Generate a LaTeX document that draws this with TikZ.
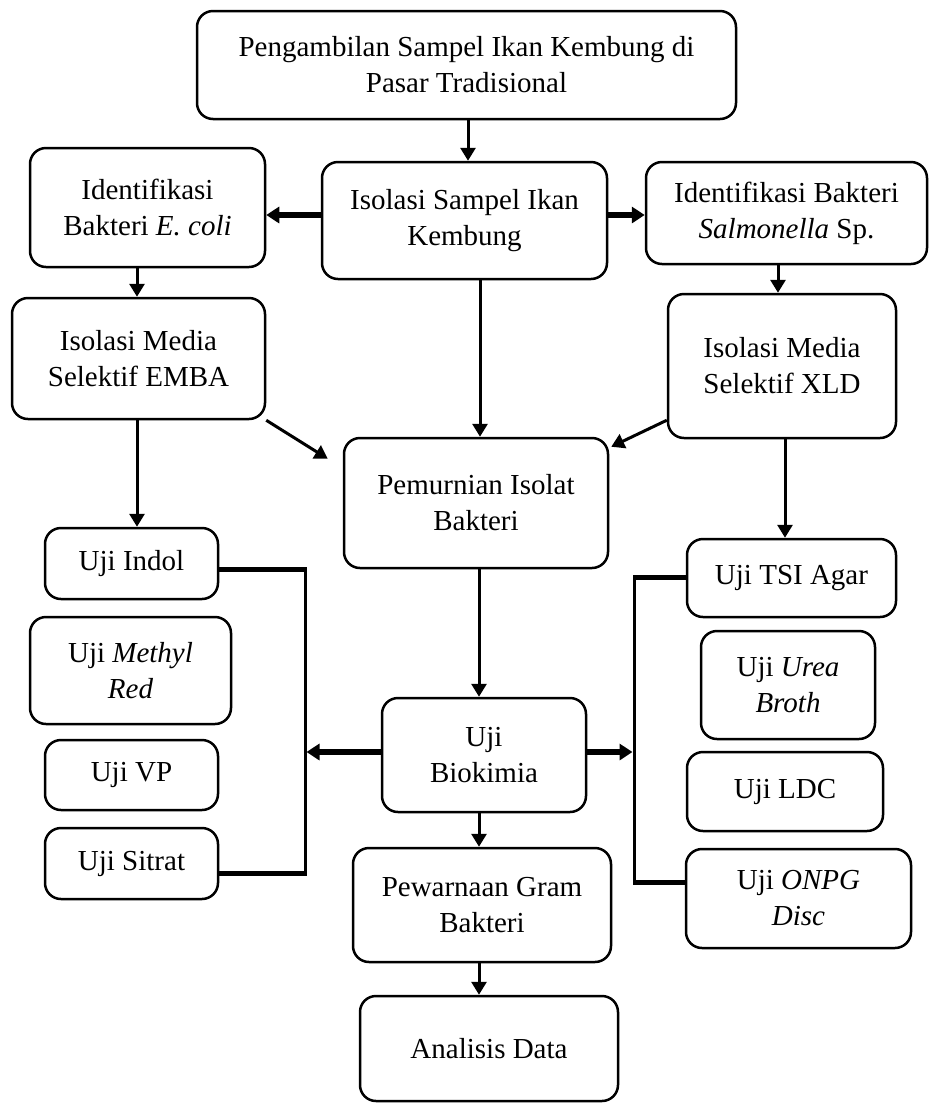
\documentclass[tikz,border=0pt]{standalone}
\usepackage{fontspec}
\setmainfont{Liberation Serif}
\usetikzlibrary{arrows.meta,calc}
\begin{document}
\begin{tikzpicture}[x=1pt,y=1pt,
  box/.style={draw, line width=2.5pt, rounded corners=16pt, align=center, inner sep=0pt,
    font=\fontsize{29}{36}\selectfont},
  arr/.style={line width=3pt, -{Triangle[length=13pt,width=15pt]}},
  tarr/.style={line width=5.5pt, -{Triangle[length=13pt,width=16pt]}},
  tline/.style={line width=5pt},
  conn/.style={line width=3pt}]
\useasboundingbox (0,0) rectangle (929,-1104);

% boxes
\node[box, minimum width=539pt, minimum height=108pt] (top) at (466.5,-65) {Pengambilan Sampel Ikan Kembung di\\Pasar Tradisional};
\node[box, minimum width=235pt, minimum height=119pt] (ecoliID) at (147.5,-207.5) {Identifikasi\\Bakteri \textit{E. coli}};
\node[box, minimum width=285pt, minimum height=117pt] (isolasi) at (464.5,-220.5) {Isolasi Sampel Ikan\\Kembung};
\node[box, minimum width=281pt, minimum height=102pt] (salmID) at (786.5,-213) {Identifikasi Bakteri\\\textit{Salmonella} Sp.};
\node[box, minimum width=253pt, minimum height=121pt] (emba) at (138.5,-358.5) {Isolasi Media\\Selektif EMBA};
\node[box, minimum width=228pt, minimum height=144pt] (xld) at (782,-366) {Isolasi Media\\Selektif XLD};
\node[box, minimum width=264pt, minimum height=130pt] (pem) at (476,-503) {Pemurnian Isolat\\Bakteri};
\node[box, minimum width=173pt, minimum height=71pt] (indol) at (131.5,-563.5) {Uji Indol};
\node[box, minimum width=201pt, minimum height=107pt] (mr) at (130.5,-670.5) {Uji \textit{Methyl}\\\textit{Red}};
\node[box, minimum width=173pt, minimum height=70pt] (vp) at (131.5,-775) {Uji VP};
\node[box, minimum width=173pt, minimum height=71pt] (sitrat) at (131.5,-863.5) {Uji Sitrat};
\node[box, minimum width=209pt, minimum height=78pt] (tsi) at (791.5,-578) {Uji TSI Agar};
\node[box, minimum width=174pt, minimum height=108pt] (urea) at (788,-685) {Uji \textit{Urea}\\\textit{Broth}};
\node[box, minimum width=196pt, minimum height=79pt] (ldc) at (785,-791.5) {Uji LDC};
\node[box, minimum width=225pt, minimum height=99pt] (onpg) at (798.5,-898.5) {Uji \textit{ONPG}\\\textit{Disc}};
\node[box, minimum width=204pt, minimum height=114pt] (bio) at (484,-755) {Uji\\Biokimia};
\node[box, minimum width=258pt, minimum height=114pt] (pew) at (482,-905) {Pewarnaan Gram\\Bakteri};
\node[box, minimum width=258pt, minimum height=105pt] (ana) at (489,-1048.5) {Analisis Data};

% connectors
\draw[arr] (top.south -| 468,0) -- (isolasi.north -| 468,0);
\draw[tarr] (isolasi.west |- 0,-215) -- (ecoliID.east |- 0,-215);
\draw[tarr] (isolasi.east |- 0,-215) -- (salmID.west |- 0,-215);
\draw[arr] (ecoliID.south -| 137,0) -- (emba.north -| 137,0);
\draw[arr] (salmID.south -| 778,0) -- (xld.north -| 778,0);
\draw[arr] (isolasi.south -| 480,0) -- (pem.north -| 480,0);
\draw[arr] (emba.south east) -- ($(pem.north west)+(-15,-22)$);
\draw[arr] ($(xld.south west)+(0,19)$) -- ($(pem.north east)+(2,-10)$);
\draw[arr] (emba.south -| 137,0) -- (indol.north -| 137,0);
\draw[arr] (xld.south -| 785,0) -- (tsi.north -| 785,0);
\draw[arr] (pem.south -| 479,0) -- (bio.north -| 479,0);

% left bracket
\coordinate (lb1) at (305,-569);
\coordinate (lb2) at (305,-873);
\coordinate (lbm) at (306.5,-752);
\draw[conn] (lb1) -- (lb2);
\draw[tline] (indol.east |- lb1) -- ($(lb1)+(1.5,0)$);
\draw[tline] (sitrat.east |- lb2) -- ($(lb2)+(1.5,0)$);
\draw[tarr] (bio.west |- lbm) -- (lbm);

% right bracket
\coordinate (rb1) at (634,-577);
\coordinate (rb2) at (634,-882);
\coordinate (rbm) at (632.5,-752);
\draw[conn] (rb1) -- (rb2);
\draw[tline] (tsi.west |- rb1) -- ($(rb1)+(-1.5,0)$);
\draw[tline] (onpg.west |- rb2) -- ($(rb2)+(-1.5,0)$);
\draw[tarr] (bio.east |- rbm) -- (rbm);

\draw[arr] (bio.south -| 479,0) -- (pew.north -| 479,0);
\draw[arr] (pew.south -| 479,0) -- (ana.north -| 479,0);
\end{tikzpicture}
\end{document}
